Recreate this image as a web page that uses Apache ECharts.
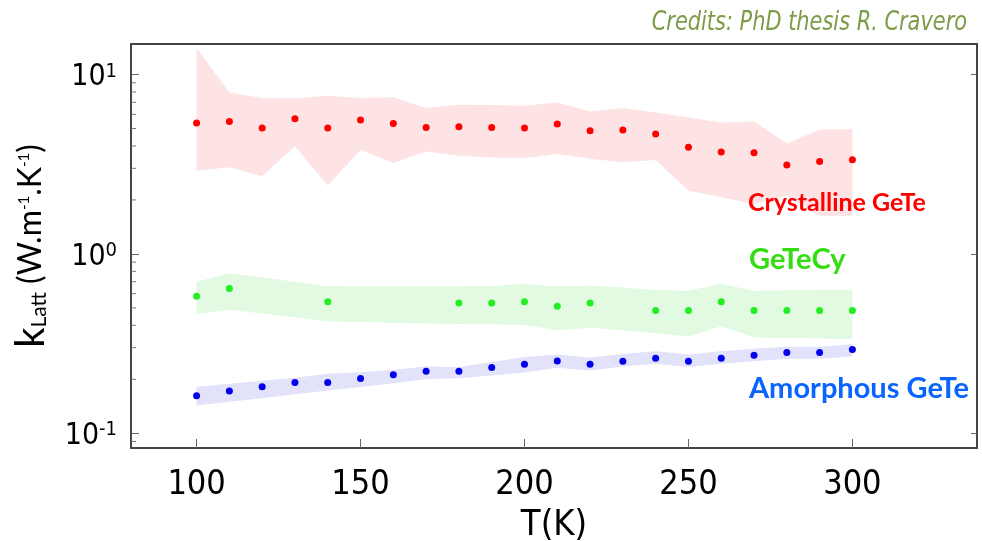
<!DOCTYPE html>
<html>
<head>
<meta charset="utf-8">
<script src="https://cdn.jsdelivr.net/npm/echarts@6/dist/echarts.min.js"></script>
<style>html,body{margin:0;padding:0;background:#fff}#c{width:982px;height:541px}</style>
</head>
<body>
<div id="c"></div>
<script>
// ---- data ----
const temps = [100,110,120,130,140,150,160,170,180,190,200,210,220,230,240,250,260,270,280,290,300];
const crystK  = [5.37,5.48,5.03,5.67,5.03,5.58,5.34,5.07,5.12,5.07,5.03,5.30,4.86,4.91,4.66,3.93,3.70,3.67,3.13,3.28,3.35];
const crystHi = [14.05,7.95,7.40,7.38,7.62,7.40,7.46,6.51,6.79,6.76,6.70,6.99,6.23,6.51,6.15,5.77,5.41,5.48,4.13,4.94,4.96];
const crystLo = [2.91,3.04,2.71,3.98,2.41,3.80,3.21,3.72,3.53,3.45,3.41,3.61,3.39,3.24,3.34,2.25,2.07,1.90,2.11,1.63,1.63];
const cyT  = [100,110,140,180,190,200,210,220,240,250,260,270,280,290,300];
const cyK  = [0.580,0.641,0.542,0.533,0.533,0.542,0.511,0.533,0.483,0.483,0.542,0.483,0.483,0.483,0.483];
const cyHi = [0.70,0.78,0.74,0.70,0.66,0.658,0.658,0.658,0.658,0.662,0.681,0.658,0.666,0.65,0.63,0.624,0.681,0.624,0.627,0.63,0.63];
const cyLo = [0.463,0.488,0.465,0.443,0.421,0.416,0.413,0.41,0.407,0.405,0.402,0.377,0.387,0.374,0.361,0.346,0.395,0.343,0.34,0.338,0.336];
const amK  = [0.162,0.172,0.182,0.192,0.192,0.202,0.212,0.222,0.222,0.233,0.243,0.253,0.243,0.252,0.262,0.252,0.262,0.272,0.282,0.282,0.293];
const amHi = [0.182,0.189,0.196,0.204,0.2145,0.219,0.226,0.236,0.234,0.250,0.266,0.275,0.265,0.277,0.287,0.275,0.287,0.296,0.304,0.304,0.315];
const amLo = [0.143,0.150,0.157,0.165,0.173,0.181,0.190,0.201,0.203,0.210,0.218,0.232,0.224,0.236,0.244,0.234,0.244,0.252,0.260,0.260,0.268];
const xTicks = [100,150,200,250,300];
const yTicks = [0.1,1,10];
const yMinorTicks = [0.09,0.2,0.3,0.4,0.5,0.6,0.7,0.8,0.9,2,3,4,5,6,7,8,9];
const X_MIN = 80, X_MAX = 338, Y_MIN = 0.0828, Y_MAX = 14.8;

const NARROW = '"Liberation Sans Narrow","DejaVu Sans Condensed",sans-serif';
const SANS = 'Lato,"Open Sans",sans-serif';

function bandSeries(hi, lo, color) {
  return {
    type: 'custom', xAxisIndex: 0, yAxisIndex: 0, silent: true, z: 1,
    data: temps.map((t, i) => [t, hi[i]]),
    renderItem: function (params, api) {
      if (params.dataIndex !== 0) return null;
      const pts = [];
      for (let i = 0; i < temps.length; i++) pts.push(api.coord([temps[i], hi[i]]));
      for (let i = temps.length - 1; i >= 0; i--) pts.push(api.coord([temps[i], lo[i]]));
      return { type: 'polygon', shape: { points: pts }, style: { fill: color } };
    }
  };
}

const chart = echarts.init(document.getElementById('c'), null, { renderer: 'canvas' });
chart.setOption({
  backgroundColor: '#fff',
  animation: false,
  grid: { left: 131, right: 5, top: 44, bottom: 93, outerBoundsMode: 'none', containLabel: false, show: true, borderColor: '#444', borderWidth: 2, backgroundColor: 'transparent' },
  xAxis: {
    type: 'value', min: X_MIN, max: X_MAX,
    name: 'T(K)', nameLocation: 'middle', nameGap: 60,
    nameTextStyle: { fontFamily: NARROW, fontSize: 36, color: '#000' },
    axisLine: { show: false },
    splitLine: { show: false },
    axisTick: { inside: true, length: 9, lineStyle: { color: '#666', width: 1 }, customValues: xTicks },
    axisLabel: { customValues: xTicks, margin: 20, fontFamily: NARROW, fontSize: 34, color: '#000' }
  },
  yAxis: [{
    type: 'log', min: Y_MIN, max: Y_MAX, logBase: 10,
    name: '{k|k}{sub|Latt}{n| (W.m}{sup|-1}{n|.K}{sup|-1}{n|)}',
    nameLocation: 'middle', nameRotate: 90, nameGap: 80,
    nameTextStyle: {
      color: '#000', fontFamily: SANS,
      rich: {
        k: { fontSize: 40, fontFamily: SANS, color: '#000' },
        sub: { fontSize: 21, fontFamily: SANS, color: '#000', padding: [16, 0, 0, 0] },
        n: { fontSize: 32, fontFamily: SANS, color: '#000' },
        sup: { fontSize: 15, fontFamily: SANS, color: '#000', padding: [0, 0, 14, 0] }
      }
    },
    axisLine: { show: false },
    splitLine: { show: false },
    minorTick: { show: false },
    axisTick: { inside: true, length: 8, lineStyle: { color: '#666', width: 1 }, customValues: yTicks },
    axisLabel: {
      customValues: yTicks, margin: 14, fontFamily: NARROW, fontSize: 30, color: '#000', padding: [6, 0, 0, 0],
      formatter: function (v) { return '10{sup|' + Math.round(Math.log10(v)) + '}'; },
      rich: { sup: { fontSize: 20, fontFamily: NARROW, color: '#000', padding: [0, 0, 12, 0] } }
    }
  }, {
    type: 'log', min: Y_MIN, max: Y_MAX, logBase: 10, position: 'right',
    axisLine: { show: false }, splitLine: { show: false },
    axisTick: { inside: true, length: 6, lineStyle: { color: '#666', width: 1 }, customValues: yTicks },
    axisLabel: { show: false }
  }],
  graphic: [
    { type: 'text', x: 967, y: 9, scaleX: 0.86, z: 100, style: { text: 'Credits: PhD thesis R. Cravero', font: 'italic 27px ' + NARROW, fill: '#7c9c48', textAlign: 'right' } },
    { type: 'text', left: 748, top: 190, z: 100, style: { text: 'Crystalline GeTe', font: 'bold 25px ' + SANS, fill: '#ff0000' } },
    { type: 'text', left: 749, top: 245, z: 100, style: { text: 'GeTeCy', font: 'bold 29px ' + SANS, fill: '#33dd11' } },
    { type: 'text', left: 749, top: 374, z: 100, style: { text: 'Amorphous GeTe', font: 'bold 29px ' + SANS, fill: '#0a64ff' } }
  ],
  series: [
    bandSeries(crystHi, crystLo, '#fde3e3'),
    bandSeries(cyHi, cyLo, '#e2fae2'),
    bandSeries(amHi, amLo, '#e2e2fa'),
    {
      type: 'custom', silent: true, z: 5,
      data: yMinorTicks.map(v => [X_MIN, v]),
      renderItem: function (params, api) {
        const p = api.coord([X_MIN, api.value(1)]);
        return { type: 'line', shape: { x1: p[0], y1: p[1], x2: p[0] + 5, y2: p[1] }, style: { stroke: '#777', lineWidth: 1 } };
      }
    },
    { type: 'scatter', name: 'Crystalline GeTe', data: temps.map((t, i) => [t, crystK[i]]), symbolSize: 7, itemStyle: { color: '#ff0000', opacity: 1 }, z: 10 },
    { type: 'scatter', name: 'GeTeCy', data: cyT.map((t, i) => [t, cyK[i]]), symbolSize: 7, itemStyle: { color: '#22ee22', opacity: 1 }, z: 10 },
    { type: 'scatter', name: 'Amorphous GeTe', data: temps.map((t, i) => [t, amK[i]]), symbolSize: 7, itemStyle: { color: '#0000ee', opacity: 1 }, z: 10 }
  ]
});
</script>
</body>
</html>
